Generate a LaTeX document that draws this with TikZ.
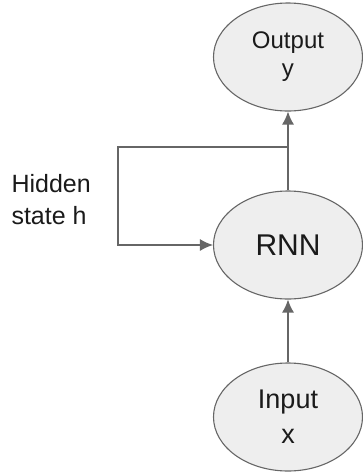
\documentclass[tikz,border=0pt]{standalone}
\usepackage{fontspec}
\setmainfont{Liberation Sans}
\usetikzlibrary{shapes.geometric,arrows.meta}
\definecolor{cellfill}{HTML}{EEEEEE}
\definecolor{linegray}{HTML}{666666}
\definecolor{textgray}{HTML}{1A1A1A}

\begin{document}
\begin{tikzpicture}[x=1pt,y=-1pt,
    cell/.style={ellipse,draw=linegray,fill=cellfill,line width=1.1pt,
      minimum width=149pt,minimum height=108pt,inner sep=0pt,
      text=textgray,align=center},
    wire/.style={linegray,line width=1.3pt,-{Latex[length=13pt,width=12pt]}}]
    \useasboundingbox (0,0) rectangle (363,475);
    \node[cell,font=\fontsize{24}{28}\selectfont] (out) at (288,57) {Output\\y};
    \node[cell,font=\fontsize{30}{34}\selectfont] (rnn) at (288,245) {RNN};
    \node[cell,font=\fontsize{27}{35}\selectfont] (in) at (288,417) {Input\\x};
    \node[text=textgray,align=left,anchor=west,font=\fontsize{25}{32}\selectfont] (hid) at (8,200) {Hidden\\state h};
    \coordinate (split) at (rnn.north |- 0,147);
    \coordinate (loop) at (118,147);
    \draw[wire] (in) -- (rnn);
    \draw[wire] (rnn) -- (out);
    \draw[wire] (split) -- (loop) -- (loop |- rnn.west) -- (rnn.west);
  \end{tikzpicture}
\end{document}
